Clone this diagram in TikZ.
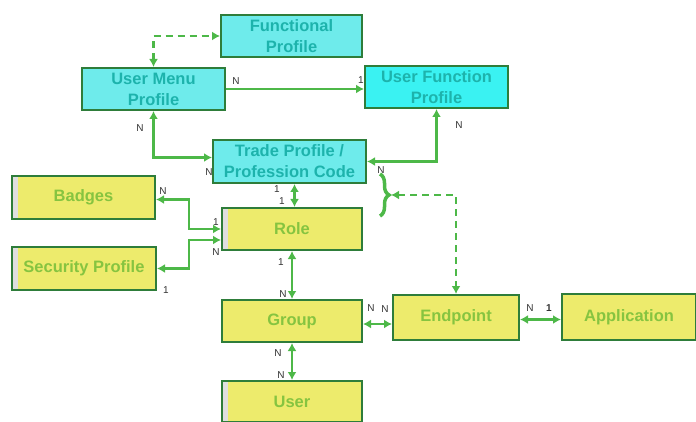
\documentclass[tikz,border=0pt]{standalone}
\usepackage{fontspec}
\setmainfont{Liberation Sans}
\usetikzlibrary{arrows.meta,decorations.pathreplacing,calc}
\definecolor{cyanfill}{HTML}{6EEBEB}
\definecolor{cyanbright}{HTML}{3AF2F2}
\definecolor{cyantext}{HTML}{1DB3AC}
\definecolor{yelfill}{HTML}{EDEB6C}
\definecolor{yeltext}{HTML}{86C440}
\definecolor{boxline}{HTML}{2E7D3A}
\definecolor{arr}{HTML}{4DB848}
\definecolor{lab}{HTML}{333333}
\begin{document}
\begin{tikzpicture}[x=1pt,y=-1pt,
  box/.style={draw=boxline,line width=2pt,inner sep=0pt,align=center,
    font=\fontsize{16.5}{21}\selectfont\bfseries},
  cbox/.style={box,fill=cyanfill,text=cyantext},
  ybox/.style={box,fill=yelfill,text=yeltext},
  sliver/.style={path picture={\fill[gray!25] (path picture bounding box.north west) rectangle ([xshift=6pt]path picture bounding box.south west);}},
  tip/.tip={Latex[length=8pt,width=9pt]},
  conn/.style={draw=arr,line width=2.2pt},
  both/.style={conn,tip-tip},
  one/.style={conn,-tip},
  dashline/.style={dash pattern=on 7pt off 5pt},
  lbl/.style={font=\fontsize{10}{11}\selectfont,text=lab,inner sep=0pt}]
\useasboundingbox (0,0) rectangle (696,422);
% nodes
\node[cbox,minimum width=141pt,minimum height=42pt] (fp) at (291.5,36) {Functional\\Profile};
\node[cbox,minimum width=143pt,minimum height=42pt] (ump) at (153.5,89) {User Menu\\Profile};
\node[cbox,fill=cyanbright,minimum width=143pt,minimum height=42pt] (ufp) at (436.5,87) {User Function\\Profile};
\node[cbox,minimum width=153pt,minimum height=43pt] (tp) at (289.5,161.5) {Trade Profile /\\Profession Code};
\node[ybox,sliver,minimum width=143pt,minimum height=43pt] (badges) at (83.5,197.5) {Badges};
\node[ybox,sliver,minimum width=140pt,minimum height=42pt] (role) at (292,229) {Role};
\node[ybox,sliver,minimum width=144pt,minimum height=43pt] (sp) at (84,268.5) {Security Profile};
\node[ybox,minimum width=140pt,minimum height=42pt] (group) at (292,321) {Group};
\node[ybox,minimum width=126pt,minimum height=45pt] (endpoint) at (456,317.5) {Endpoint};
\node[ybox,minimum width=134pt,minimum height=46pt] (app) at (629,317) {Application};
\node[ybox,sliver,minimum width=140pt,minimum height=41pt] (user) at (292,401.5) {User};
% brace
\draw[draw=arr,line width=3.5pt,decorate,decoration={brace,amplitude=9pt}] (380,174) -- (380,216);
\coordinate (bt) at (391,195);
% connectors
\draw[both,dashline] (ump.north) |- (fp.west);
\draw[one] (ump.east) -- (ump.east -| ufp.west);
\draw[both] (ump.south) |- ([yshift=4pt]tp.west);
\draw[both] (ufp.south) |- (tp.east);
\draw[both] ([xshift=5pt]tp.south) -- ([xshift=5pt]tp.south |- role.north);
\draw[both] (role.west) -- ++(-32,0) |- ([yshift=-2pt]badges.east);
\draw[both] ([yshift=-11pt]role.west) -- ++(-32,0) |- (sp.east);
\draw[both,dashline] (bt) -| (endpoint.north);
\draw[both] (role.south) -- (group.north);
\draw[both] ([yshift=-3pt]group.east) -- ([yshift=-3pt]group.east -| endpoint.west);
\draw[both] ([yshift=-2pt]endpoint.east) -- ([yshift=-2pt]endpoint.east -| app.west);
\draw[both] (group.south) -- (user.north);
% labels
\node[lbl] (l1) at (236,81) {N};
\node[lbl] (l2) at (361,80) {1};
\node[lbl] (l3) at (140,128) {N};
\node[lbl] (l4) at (209,172) {N};
\node[lbl] (l5) at (459,125) {N};
\node[lbl] (l6) at (381,170) {N};
\node[lbl] (l7) at (277,189) {1};
\node[lbl] (l8) at (282,201) {1};
\node[lbl] (l9) at (163,191) {N};
\node[lbl] (l10) at (216,222) {1};
\node[lbl] (l11) at (216,252) {N};
\node[lbl] (l12) at (166,290) {1};
\node[lbl] (l13) at (281,262) {1};
\node[lbl] (l14) at (283,294) {N};
\node[lbl] (l15) at (371,308) {N};
\node[lbl] (l16) at (385,309) {N};
\node[lbl] (l17) at (530,308) {N};
\node[lbl,font=\fontsize{10}{11}\selectfont\bfseries] (l18) at (549,308) {1};
\node[lbl] (l19) at (278,353) {N};
\node[lbl] (l20) at (281,375) {N};
\end{tikzpicture}
\end{document}
